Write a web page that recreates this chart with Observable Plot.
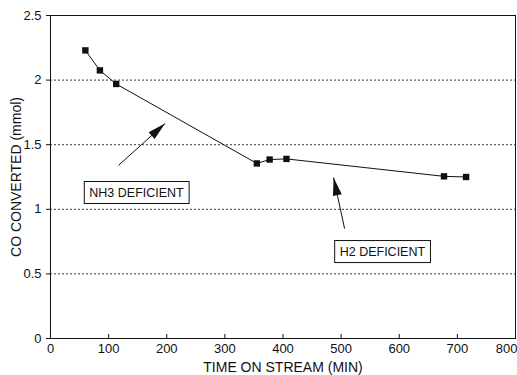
<!DOCTYPE html>
<html><head><meta charset="utf-8">
<script src="https://cdn.jsdelivr.net/npm/d3@7"></script>
<script src="https://cdn.jsdelivr.net/npm/@observablehq/plot@0.6"></script>
<style>
body{margin:0;background:#fff;}
svg{font-family:"Liberation Sans",Arial,sans-serif;}
</style>
</head><body><div id="chart"></div>
<script>
const time = [60, 85, 113, 355, 377, 406, 677, 715];
const converted = [2.23, 2.075, 1.97, 1.355, 1.385, 1.39, 1.255, 1.25];
const gridLevels = [0.5, 1, 1.5, 2];
const xTicks = [0, 100, 200, 300, 400, 500, 600, 700, 800];
const yTicks = [0, 0.5, 1, 1.5, 2, 2.5];
const xTitle = "TIME ON STREAM (MIN)";
const yTitle = "CO CONVERTED (mmol)";
const labels = ["NH3 DEFICIENT", "H2 DEFICIENT"];
const labelX = [148, 571];
const labelY = [1.13, 0.673];
const arrowTailX = [117, 506];
const arrowTailY = [1.34, 0.85];
const arrowHeadX = [197, 487];
const arrowHeadY = [1.664, 1.246];

const W = 517, H = 375;
const margin = {left: 50, right: 2, top: 15, bottom: 37};
const data = time.map((t, i) => ({t, v: converted[i]}));
const notes = labels.map((s, i) => ({s, x: labelX[i], y: labelY[i]}));
const arrows = labels.map((s, i) => ({x1: arrowTailX[i], y1: arrowTailY[i], x2: arrowHeadX[i], y2: arrowHeadY[i]}));

// pixel-space angle of each arrow, via scales equal to the plot's
const sx = d3.scaleLinear([0, 800], [margin.left, W - margin.right]);
const sy = d3.scaleLinear([0, 2.5], [H - margin.bottom, margin.top]);
function headSymbol(a) {
  const ang = Math.atan2(sy(a.y2) - sy(a.y1), sx(a.x2) - sx(a.x1));
  const L = 18, Wd = 4.5;
  const c = Math.cos(ang), s = Math.sin(ang);
  return {draw(ctx) {
    ctx.moveTo(0, 0);
    ctx.lineTo(-L * c + Wd * s, -L * s - Wd * c);
    ctx.lineTo(-L * c - Wd * s, -L * s + Wd * c);
    ctx.closePath();
  }};
}

const lastTick = xTicks[xTicks.length - 1];
const chart = Plot.plot({
  width: W, height: H,
  marginLeft: margin.left, marginRight: margin.right, marginTop: margin.top, marginBottom: margin.bottom,
  style: {fontFamily: "Liberation Sans, Arial, sans-serif", fontSize: "13px", color: "#111", background: "#fff"},
  x: {domain: [0, 800]},
  y: {domain: [0, 2.5]},
  marks: [
    Plot.ruleY(gridLevels, {stroke: "#222", strokeWidth: 0.9, strokeDasharray: "2,2"}),
    Plot.frame({stroke: "#111", strokeWidth: 1}),
    Plot.axisY({ticks: yTicks, tickSize: 4, tickFormat: d => String(d), fontSize: 13, label: null}),
    Plot.axisX({ticks: xTicks, tickSize: -4, tickPadding: 9, fontSize: 13,
      tickFormat: d => d === lastTick ? "" : String(d), label: null}),
    Plot.axisX({ticks: [lastTick], tickSize: 0, tickPadding: 5, fontSize: 13, textAnchor: "end", dx: 2,
      tickFormat: d => String(d), label: null}),
    Plot.text([xTitle], {text: d => d, frameAnchor: "bottom", textAnchor: "middle", lineAnchor: "middle", dy: 29, fontSize: 14, fill: "#111"}),
    Plot.text([yTitle], {text: d => d, frameAnchor: "left", textAnchor: "middle", lineAnchor: "middle", rotate: -90, dx: -34, fontSize: 14, fill: "#111"}),
    Plot.line(data, {x: "t", y: "v", stroke: "#111", strokeWidth: 1}),
    Plot.dot(data, {x: "t", y: "v", symbol: "square", r: 3.6, fill: "#111", stroke: "none"}),
    Plot.link(arrows, {x1: "x1", y1: "y1", x2: "x2", y2: "y2", stroke: "#111", strokeWidth: 1}),
    Plot.dot(arrows.slice(0, 1), {x: "x2", y: "y2", symbol: headSymbol(arrows[0]), r: 1, fill: "#111", stroke: "none"}),
    Plot.dot(arrows.slice(1, 2), {x: "x2", y: "y2", symbol: headSymbol(arrows[1]), r: 1, fill: "#111", stroke: "none"}),
    Plot.text(notes, {x: "x", y: "y", text: "s", fontSize: 12.5, fill: "#111", className: "note"})
  ]
});
document.getElementById("chart").appendChild(chart);

// draw boxes around the annotation texts
d3.select(chart).selectAll("g.note text").each(function() {
  const b = this.getBBox();
  const padX = 5, padY = 4;
  d3.select(this.parentNode).insert("rect", () => this)
    .attr("x", b.x - padX).attr("y", b.y - padY)
    .attr("width", b.width + 2 * padX).attr("height", b.height + 2 * padY)
    .attr("fill", "#fff").attr("stroke", "#111").attr("stroke-width", 1)
    .attr("transform", this.getAttribute("transform"));
});
</script></body></html>
